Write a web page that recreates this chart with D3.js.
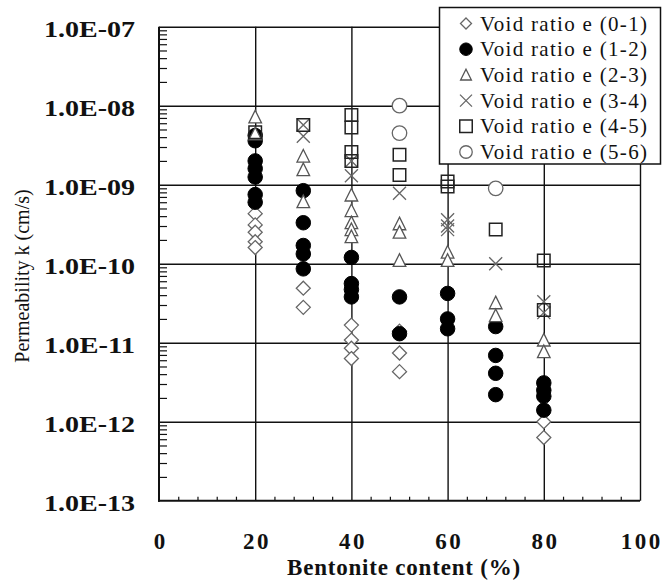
<!DOCTYPE html>
<html>
<head>
<meta charset="utf-8">
<script src="https://cdn.jsdelivr.net/npm/d3@7"></script>
<style>
  body { margin: 0; background: #fff; }
  text { font-family: "Liberation Serif", "Times New Roman", serif; fill: #111; }
</style>
</head>
<body>
<div id="chart"></div>
<script>
// ---- data ----
const contentTicks = [0, 20, 40, 60, 80, 100];
const kTicks = [1e-13, 1e-12, 1e-11, 1e-10, 1e-9, 1e-8, 1e-7];
const seriesNames = ["Void ratio e (0-1)", "Void ratio e (1-2)", "Void ratio e (2-3)",
                     "Void ratio e (3-4)", "Void ratio e (4-5)", "Void ratio e (5-6)"];

// [bentonite %, k (cm/s)]
const e01 = [[20, 4.3e-10], [20, 3.1e-10], [20, 2.5e-10], [20, 1.9e-10], [20, 1.6e-10],
             [30, 4.9e-11], [30, 2.8e-11],
             [40, 1.67e-11], [40, 1.08e-11], [40, 8.5e-12], [40, 6.3e-12],
             [50, 1.4e-11], [50, 7.4e-12], [50, 4.3e-12],
             [80, 1.0e-12], [80, 6.3e-13]];
const e12 = [[20, 4.2e-9], [20, 3.6e-9], [20, 2.0e-9], [20, 1.6e-9], [20, 1.25e-9], [20, 7.5e-10], [20, 6.0e-10],
             [30, 8.4e-10], [30, 3.3e-10], [30, 1.7e-10], [30, 1.33e-10], [30, 8.6e-11],
             [40, 1.2e-10], [40, 5.6e-11], [40, 4.7e-11], [40, 3.8e-11],
             [50, 3.8e-11], [50, 1.3e-11],
             [60, 4.2e-11], [60, 2.0e-11], [60, 1.5e-11],
             [70, 1.6e-11], [70, 6.9e-12], [70, 4.1e-12], [70, 2.2e-12],
             [80, 3.1e-12], [80, 2.5e-12], [80, 2.1e-12], [80, 1.4e-12]];
const e23 = [[20, 7.2e-9], [20, 4.4e-9],
             [30, 2.3e-9], [30, 1.55e-9], [30, 6.1e-10],
             [40, 7.4e-10], [40, 4.7e-10], [40, 3.3e-10], [40, 2.7e-10], [40, 2.2e-10],
             [50, 3.2e-10], [50, 2.5e-10], [50, 1.1e-10],
             [60, 1.4e-10], [60, 1.1e-10],
             [70, 3.2e-11], [70, 2.2e-11],
             [80, 1.08e-11], [80, 7.7e-12]];
const e34 = [[30, 5.7e-9], [30, 4.1e-9],
             [40, 2.0e-9], [40, 1.3e-9],
             [50, 7.8e-10],
             [60, 3.6e-10], [60, 3.0e-10], [60, 2.7e-10],
             [70, 1.0e-10],
             [80, 3.3e-11], [80, 2.4e-11]];
const e45 = [[20, 4.6e-9],
             [30, 5.7e-9],
             [40, 7.6e-9], [40, 5.3e-9], [40, 2.6e-9], [40, 2.0e-9],
             [50, 2.4e-9], [50, 1.33e-9],
             [60, 1.1e-9], [60, 0.95e-9],
             [70, 2.7e-10],
             [80, 1.1e-10], [80, 2.6e-11]];
const e56 = [[50, 1.0e-8], [50, 4.5e-9],
             [70, 9.0e-10]];

const allSeries = [e01, e12, e23, e34, e45, e56];

// ---- layout ----
const W = 662, H = 581;
const plot = {left: 159, right: 640, top: 26.7, bottom: 500.7};

const svg = d3.select("#chart").append("svg")
    .attr("width", W)
    .attr("height", H);

const x = d3.scaleLinear().domain([0, 100]).range([plot.left, plot.right]);
const y = d3.scaleLog().domain([1e-13, 1e-7]).range([plot.bottom, plot.top]);

// minor ticks
let yMinor = [];
for (let e = -13; e < -7; e++) {
    for (let m = 2; m <= 9; m++) yMinor.push(m * Math.pow(10, e));
}
let xMinor = d3.range(4, 100, 4).filter(v => v % 20 !== 0);

// gridlines
svg.append("g")
    .attr("transform", `translate(${plot.left},0)`)
    .call(d3.axisLeft(y).tickValues(kTicks.slice(1)).tickSize(-(plot.right - plot.left)).tickFormat(""))
    .call(g => g.select(".domain").remove())
    .call(g => g.selectAll("line").attr("stroke", "#111").attr("stroke-width", 1.4));

svg.append("g")
    .attr("transform", `translate(0,${plot.bottom})`)
    .call(d3.axisBottom(x).tickValues(contentTicks.slice(1)).tickSize(-(plot.bottom - plot.top)).tickFormat(""))
    .call(g => g.select(".domain").remove())
    .call(g => g.selectAll("line").attr("stroke", "#111").attr("stroke-width", 1.4));

// minor ticks (inside)
svg.append("g")
    .attr("transform", `translate(${plot.left},0)`)
    .call(d3.axisLeft(y).tickValues(yMinor).tickSize(-8).tickFormat(""))
    .call(g => g.select(".domain").remove())
    .call(g => g.selectAll("line").attr("stroke", "#111").attr("stroke-width", 1.2));

svg.append("g")
    .attr("transform", `translate(0,${plot.bottom})`)
    .call(d3.axisBottom(x).tickValues(xMinor).tickSize(-4).tickFormat(""))
    .call(g => g.select(".domain").remove())
    .call(g => g.selectAll("line").attr("stroke", "#111").attr("stroke-width", 1.2));

// axis lines
svg.append("line")
    .attr("x1", plot.left).attr("x2", plot.left)
    .attr("y1", plot.top).attr("y2", plot.bottom + 1)
    .attr("stroke", "#111").attr("stroke-width", 2);
svg.append("line")
    .attr("x1", plot.left - 1).attr("x2", plot.right)
    .attr("y1", plot.bottom).attr("y2", plot.bottom)
    .attr("stroke", "#111").attr("stroke-width", 2);

// tick labels
const fmtK = v => {
    let e = Math.round(Math.log10(v));
    return "1.0E-" + String(-e).padStart(2, "0");
};

svg.append("g")
    .attr("transform", `translate(${plot.left},0)`)
    .call(d3.axisLeft(y).tickValues(kTicks).tickFormat(fmtK).tickSize(0).tickPadding(24))
    .call(g => g.select(".domain").remove())
    .call(g => g.selectAll("text")
        .attr("font-family", '"Liberation Serif", serif')
        .attr("font-size", 23)
        .attr("font-weight", "bold")
        .attr("fill", "#111")
        .attr("dy", "0.42em")
        .attr("textLength", 91)
        .attr("lengthAdjust", "spacingAndGlyphs"));

svg.append("g")
    .attr("transform", `translate(0,${plot.bottom})`)
    .call(d3.axisBottom(x).tickValues(contentTicks).tickFormat(d => d).tickSize(0).tickPadding(32))
    .call(g => g.select(".domain").remove())
    .call(g => g.selectAll("text")
        .attr("font-family", '"Liberation Serif", serif')
        .attr("font-size", 23)
        .attr("font-weight", "bold")
        .attr("fill", "#111")
        .style("letter-spacing", "2.5px")
        .attr("dx", 1.2));

// axis titles
svg.append("text")
    .attr("x", 404)
    .attr("y", 575)
    .attr("text-anchor", "middle")
    .attr("font-size", 23)
    .attr("font-weight", "bold")
    .style("letter-spacing", "0.8px")
    .text("Bentonite content (%)");

svg.append("text")
    .attr("transform", "translate(29,276) rotate(-90)")
    .attr("text-anchor", "middle")
    .attr("font-size", 20)
    .text("Permeability k (cm/s)");

// ---- markers ----
const markerStyles = [
    {type: "diamond",  fill: "#fff", stroke: "#666", sw: 1.3},
    {type: "circle",   fill: "#000", stroke: "#000", sw: 1},
    {type: "triangle", fill: "#fff", stroke: "#555", sw: 1.3},
    {type: "cross",    fill: "none", stroke: "#666", sw: 1.3},
    {type: "square",   fill: "none", stroke: "#222", sw: 1.5},
    {type: "circle",   fill: "#fff", stroke: "#666", sw: 1.3}
];

function markerPath(type, s) {
    let p = d3.path();
    let h = s / 2;
    if (type === "diamond") {
        p.moveTo(0, -h); p.lineTo(h, 0); p.lineTo(0, h); p.lineTo(-h, 0); p.closePath();
    } else if (type === "circle") {
        p.arc(0, 0, h, 0, 2 * Math.PI);
    } else if (type === "triangle") {
        p.moveTo(0, -h * 0.95); p.lineTo(h * 0.9, h * 0.85); p.lineTo(-h * 0.9, h * 0.85); p.closePath();
    } else if (type === "cross") {
        p.moveTo(-h, -h); p.lineTo(h, h); p.moveTo(h, -h); p.lineTo(-h, h);
    } else if (type === "square") {
        p.rect(-h, -h, s, s);
    }
    return p.toString();
}

const markerSizes = [14, 14.5, 14, 13, 13, 14.5];

allSeries.forEach((data, i) => {
    let st = markerStyles[i];
    svg.append("g")
        .attr("class", "series-" + i)
        .selectAll("path")
        .data(data)
        .enter()
        .append("path")
        .attr("d", markerPath(st.type, st.type === "square" ? markerSizes[i] - 0.5 : markerSizes[i]))
        .attr("transform", d => `translate(${x(d[0])},${y(d[1])})`)
        .attr("fill", st.fill)
        .attr("stroke", st.stroke)
        .attr("stroke-width", st.sw);
});

// ---- legend ----
const legend = svg.append("g").attr("class", "legend");
legend.append("rect")
    .attr("x", 439.5).attr("y", 7.5)
    .attr("width", 221).attr("height", 156.5)
    .attr("fill", "#fff")
    .attr("stroke", "#111")
    .attr("stroke-width", 1.5);

const rowY = d3.scaleLinear().domain([0, 5]).range([23.5, 152]);

seriesNames.forEach((name, i) => {
    let st = markerStyles[i];
    legend.append("path")
        .attr("d", markerPath(st.type, [11, 12.5, 12, 12, 12.5, 12.5][i]))
        .attr("transform", `translate(466,${rowY(i)})`)
        .attr("fill", st.fill)
        .attr("stroke", st.stroke)
        .attr("stroke-width", st.sw);
    legend.append("text")
        .attr("x", 480)
        .attr("y", rowY(i) + 7)
        .attr("font-size", 21)
        .style("letter-spacing", "1.3px")
        .text(name);
});
</script>
</body>
</html>
